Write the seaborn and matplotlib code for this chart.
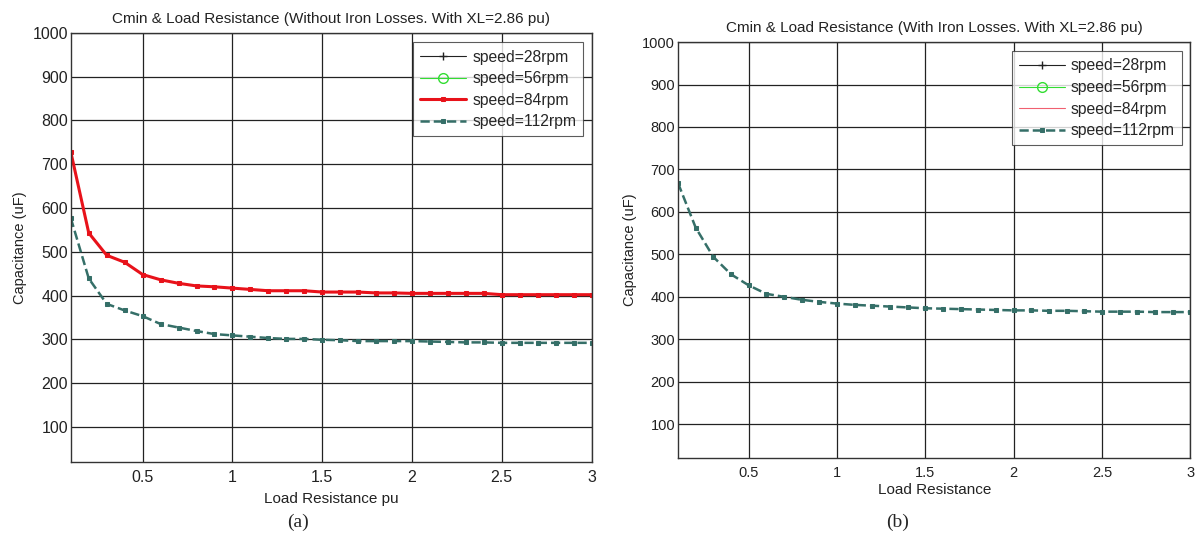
import matplotlib
matplotlib.use("Agg")
import matplotlib.pyplot as plt
import seaborn as sns

# Load resistance (pu)
load_res = [0.1, 0.2, 0.3, 0.4, 0.5, 0.6, 0.7, 0.8, 0.9, 1.0,
            1.1, 1.2, 1.3, 1.4, 1.5, 1.6, 1.7, 1.8, 1.9, 2.0,
            2.1, 2.2, 2.3, 2.4, 2.5, 2.6, 2.7, 2.8, 2.9, 3.0]

# (a) without iron losses: minimum capacitance (uF)
a_84rpm = [728, 543, 492, 476, 448, 436, 428, 422, 420, 417,
           414, 411, 411, 411, 408, 408, 408, 406, 406, 405,
           405, 405, 405, 405, 402, 402, 402, 402, 402, 402]
a_112rpm = [577, 439, 381, 366, 353, 335, 327, 319, 312, 309,
            306, 303, 301, 301, 299, 298, 296, 296, 296, 296,
            295, 294, 293, 293, 292, 292, 292, 292, 292, 292]

# (b) with iron losses
b_112rpm = [668, 563, 494, 453, 427, 407, 400, 393, 388, 384,
            381, 379, 377, 375, 373, 372, 371, 370, 369, 368,
            368, 367, 367, 366, 365, 365, 365, 364, 364, 364]

# Series with no feasible points in the plotted range
no_points = []

labels = ["speed=28rpm", "speed=56rpm", "speed=84rpm", "speed=112rpm"]
x_ticks = [0.5, 1, 1.5, 2, 2.5, 3]
x_ticklabels = ["0.5", "1", "1.5", "2", "2.5", "3"]
y_ticks = [100, 200, 300, 400, 500, 600, 700, 800, 900, 1000]

titles = ["Cmin & Load Resistance (Without Iron Losses. With XL=2.86 pu)",
          "Cmin & Load Resistance (With Iron Losses. With XL=2.86 pu)"]
xlabels = ["Load Resistance pu", "Load Resistance"]
ylabel = "Capacitance (uF)"
panel_tags = ["(a)", "(b)"]

RED = "#e8121a"
TEAL = "#356f68"
GREEN = "#33dd33"
INK = "#222222"

sns.set_style("white")
plt.rcParams["font.family"] = ["Liberation Sans", "DejaVu Sans"]

fig = plt.figure(figsize=(12, 5.39), dpi=100)
ax_a = fig.add_axes([0.059, 0.143, 0.434, 0.796])
ax_b = fig.add_axes([0.565, 0.150, 0.427, 0.772])


def style_axes(ax, title, xlabel, tick_fs, title_fs, xlabel_pad):
    ax.set_xlim(0.1, 3)
    ax.set_ylim(20, 1000)
    ax.set_xticks(x_ticks)
    ax.set_xticklabels(x_ticklabels)
    ax.set_yticks(y_ticks)
    ax.grid(True, color=INK, linewidth=0.9)
    ax.set_axisbelow(True)
    for sp in ax.spines.values():
        sp.set_color("#333333")
        sp.set_linewidth(1.0)
    ax.tick_params(axis="y", labelsize=tick_fs, length=0, pad=2, colors=INK)
    ax.tick_params(axis="x", labelsize=tick_fs, length=0, pad=6, colors=INK)
    ax.set_title(title, fontsize=title_fs, color=INK, pad=7)
    ax.set_xlabel(xlabel, fontsize=11, color=INK, labelpad=xlabel_pad)
    ax.set_ylabel(ylabel, fontsize=10.5, color=INK, labelpad=4)


def add_legend(ax, handles):
    leg = ax.legend(handles, labels, loc="upper right",
                    bbox_to_anchor=(0.99, 0.985), fontsize=11.3, frameon=True,
                    fancybox=False, handlelength=2.9, borderpad=0.45,
                    labelspacing=0.42, handletextpad=0.4, borderaxespad=0.2)
    leg.get_frame().set_edgecolor("#333333")
    leg.get_frame().set_linewidth(0.8)
    return leg


# ---- panel (a) ----
h28, = ax_a.plot(no_points, no_points, color=INK, lw=0.8, marker="+", ms=6)
h56, = ax_a.plot(no_points, no_points, color=GREEN, lw=0.8, marker="o", ms=7, mfc="none")
sns.lineplot(x=load_res, y=a_84rpm, ax=ax_a, color=RED, lw=2.2, marker="s", ms=3,
             mec=RED, label=labels[2])
sns.lineplot(x=load_res, y=a_112rpm, ax=ax_a, color=TEAL, lw=1.8, ls="--", marker="s",
             ms=2.6, mec=TEAL, label=labels[3])
h84 = ax_a.lines[-2]
h112 = ax_a.lines[-1]
style_axes(ax_a, titles[0], xlabels[0], 11.5, 11, 5)
add_legend(ax_a, [h28, h56, h84, h112])

# ---- panel (b) ----
g28, = ax_b.plot(no_points, no_points, color=INK, lw=0.8, marker="+", ms=6)
g56, = ax_b.plot(no_points, no_points, color=GREEN, lw=0.8, marker="o", ms=7, mfc="none")
g84, = ax_b.plot(no_points, no_points, color="#f06070", lw=0.8)
sns.lineplot(x=load_res, y=b_112rpm, ax=ax_b, color=TEAL, lw=1.8, ls="--", marker="s",
             ms=2.6, mec=TEAL, label=labels[3])
g112 = ax_b.lines[-1]
style_axes(ax_b, titles[1], xlabels[1], 10.5, 11, 2)
add_legend(ax_b, [g28, g56, g84, g112])

# Panel tags under each chart
serif = ["Liberation Serif", "DejaVu Serif"]
fig.text(0.248, 0.030, panel_tags[0], ha="center", va="center", fontsize=14, family=serif)
fig.text(0.748, 0.030, panel_tags[1], ha="center", va="center", fontsize=14, family=serif)

fig.savefig("out.png", dpi=100, facecolor="white")
